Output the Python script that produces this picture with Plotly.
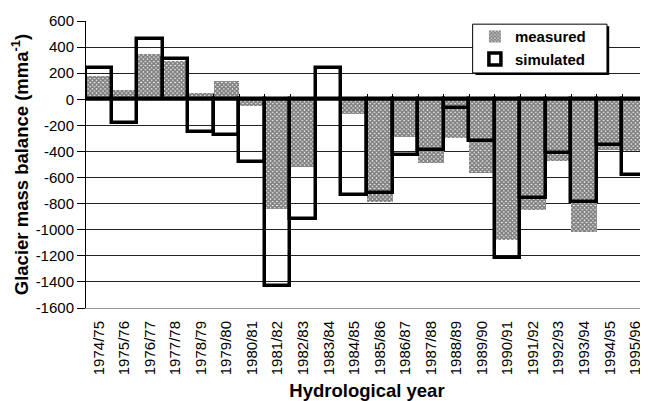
import plotly.graph_objects as go

# ── Data ───────────────────────────────────────────────────────────────────────
years = ['1974/75', '1975/76', '1976/77', '1977/78', '1978/79', '1979/80',
         '1980/81', '1981/82', '1982/83', '1983/84', '1984/85', '1985/86',
         '1986/87', '1987/88', '1988/89', '1989/90', '1990/91', '1991/92',
         '1992/93', '1993/94', '1994/95', '1995/96']
measured = [180, 70, 350, 290, 50, 140, -50, -840, -520, 0, -110, -790,
            -290, -490, -300, -565, -1080, -850, -470, -1020, -390, -400]
simulated = [240, -185, 460, 305, -250, -270, -480, -1430, -920, 240, -730, -720,
             -430, -385, -70, -320, -1220, -760, -415, -790, -350, -580]
y_ticks = [600, 400, 200, 0, -200, -400, -600, -800, -1000, -1200, -1400, -1600]
y_labels = ['600', '400', '200', '0', '-200', '-400', '-600', '-800',
            '-1000', '-1200', '-1400', '-1600']

FONT = 'Liberation Sans, Arial, sans-serif'

fig = go.Figure()
fig.add_trace(go.Bar(
    x=years, y=measured, name='<b>measured</b>',
    marker=dict(
        color='#555555',
        line=dict(width=0),
        pattern=dict(shape='x', size=3, solidity=0.8, fgcolor='#000000', bgcolor='white'),
    ),
))
fig.add_trace(go.Bar(
    x=years, y=simulated, name='<b>simulated</b>',
    marker=dict(color='rgba(0,0,0,0)', line=dict(width=3.5, color='black')),
))

# invisible helper axis at y=0 carrying the small category-boundary ticks
fig.add_trace(go.Scatter(x=years, y=[None] * len(years), xaxis='x2',
                         showlegend=False, hoverinfo='skip'))

# thick zero line drawn over the bars
fig.add_shape(type='line', xref='paper', x0=0, x1=1, yref='y', y0=0, y1=0,
              line=dict(color='black', width=3), layer='above')

# legend frame with drop shadow (Excel style)
fig.add_shape(type='rect', xref='paper', yref='paper', x0=0.693, x1=0.931,
              y0=0.812, y1=0.982, fillcolor='black', line=dict(width=0), layer='above')
fig.add_shape(type='rect', xref='paper', yref='paper', x0=0.688, x1=0.927,
              y0=0.819, y1=0.989, fillcolor='white', line=dict(color='black', width=1),
              layer='above')

# page body has an 8px margin, so the figure is sized to the remaining window
fig.update_layout(
    width=640, height=393,
    paper_bgcolor='white', plot_bgcolor='white',
    font=dict(family=FONT, color='black', size=12),
    margin=dict(l=78, r=0, t=13, b=93),
    barmode='overlay', bargap=0,
    showlegend=True,
    legend=dict(
        x=0.692, y=1.003, xanchor='left', yanchor='top',
        bgcolor='rgba(0,0,0,0)', borderwidth=0,
        font=dict(size=15, family=FONT),
        itemwidth=30, tracegroupgap=0,
    ),
    xaxis=dict(
        type='category', tickangle=-90, automargin=False,
        tickfont=dict(size=15), ticks='outside', ticklen=6, tickcolor='rgba(0,0,0,0)',
        showline=True, linecolor='#999999', linewidth=1,
        showgrid=False,
        title=dict(text='<b>Hydrological year</b>', font=dict(size=18.5), standoff=11),
    ),
    xaxis2=dict(
        type='category', overlaying='x', matches='x', anchor='free',
        position=1600 / 2200, side='top', showline=False, showgrid=False,
        ticks='outside', tickson='boundaries', ticklen=5, tickcolor='black',
        tickwidth=1, showticklabels=False,
    ),
    yaxis=dict(
        range=[-1600, 600], tickvals=y_ticks, ticktext=y_labels, automargin=False,
        tickfont=dict(size=15), ticks='outside', ticklen=8, tickcolor='black',
        showline=True, linecolor='black', linewidth=1,
        showgrid=True, gridcolor='#222222', gridwidth=1,
        zeroline=False,
        title=dict(text='<b>Glacier mass balance (mma<sup>-1</sup>)</b>',
                   font=dict(size=18.5), standoff=6),
    ),
)

fig.write_html('out.html')
